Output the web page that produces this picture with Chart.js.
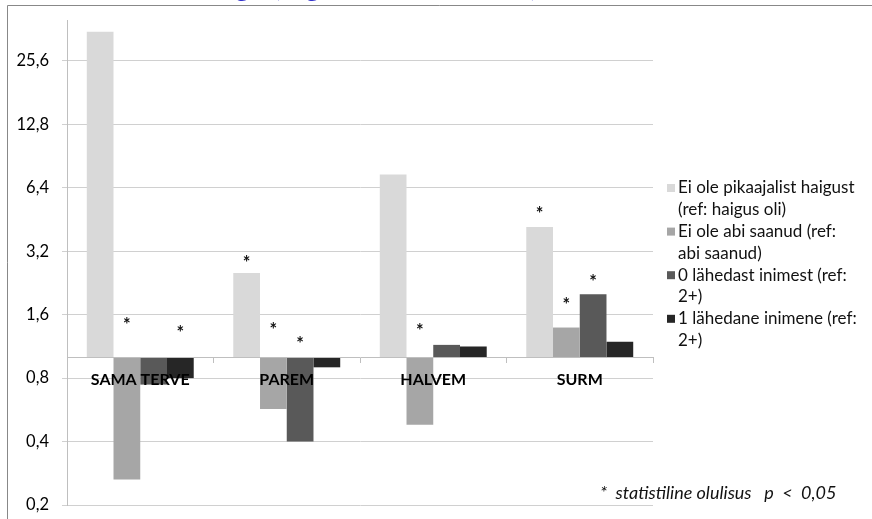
<!DOCTYPE html>
<html>
<head>
<meta charset="utf-8">
<script src="https://cdn.jsdelivr.net/npm/chart.js@4.4.1/dist/chart.umd.min.js"></script>
<style>
  html, body { margin: 0; padding: 0; background: #fff; }
  canvas { display: block; }
</style>
</head>
<body>
<canvas id="graafik" width="872" height="519"></canvas>
<script>
const categories = ["SAMA TERVE", "PAREM", "HALVEM", "SURM"];
const seriesLabels = [
    ["Ei ole pikaajalist haigust", "(ref: haigus oli)"],
    ["Ei ole abi saanud (ref:", "abi saanud)"],
    ["0 lähedast inimest (ref:", "2+)"],
    ["1 lähedane inimene (ref:", "2+)"]
];
const seriesColors = ["#d9d9d9", "#a6a6a6", "#595959", "#262626"];

// šansside suhted (ref = 1)
const noChronic = [35.2, 2.52, 7.4, 4.17];
const noHelp = [0.264, 0.571, 0.481, 1.39];
const zeroClose = [0.745, 0.40, 1.15, 2.0];
const oneClose = [0.80, 0.90, 1.13, 1.19];

// tärnide kõrgus (statistiliselt oluline), null = puudub
const sigNoChronic = [null, 2.94, null, 5.03];
const sigNoHelp = [1.50, 1.42, 1.41, 1.87];
const sigZeroClose = [null, 1.22, null, 2.41];
const sigOneClose = [1.38, null, null, null];

const yTicks = [0.2, 0.4, 0.8, 1.6, 3.2, 6.4, 12.8, 25.6];
const titleText = "Sotsiaalsete tegurite seos tervise muutumisega (logaritmiline skaala)";
const footnote = "*  statistiline olulisus   p  <  0,05";

const values = [noChronic, noHelp, zeroClose, oneClose];
const stars = [sigNoChronic, sigNoHelp, sigZeroClose, sigOneClose];

const datasets = [];
for (let i = 0; i < values.length; i++) {
    datasets.push({
        label: seriesLabels[i].join(" "),
        data: values[i],
        backgroundColor: seriesColors[i],
        borderWidth: 0,
        base: 1,
        categoryPercentage: 0.73,
        barPercentage: 1
    });
}

const decorations = {
    id: "decorations",
    beforeDraw(chart) {
        const ctx = chart.ctx;
        ctx.save();
        ctx.fillStyle = "#fff";
        ctx.fillRect(0, 0, chart.width, chart.height);
        ctx.strokeStyle = "#888";
        ctx.lineWidth = 1;
        ctx.beginPath();
        ctx.moveTo(7.5, chart.height);
        ctx.lineTo(7.5, 5.5);
        ctx.lineTo(chart.width, 5.5);
        ctx.stroke();
        ctx.font = "30px Lato";
        ctx.fillStyle = "#3333cc";
        ctx.textAlign = "right";
        ctx.textBaseline = "alphabetic";
        ctx.fillText(titleText, 538, -4);
        ctx.restore();
    },
    afterDatasetsDraw(chart) {
        const ctx = chart.ctx;
        const y = chart.scales.y;
        ctx.save();
        ctx.font = "bold 18px Lato";
        ctx.fillStyle = "#111";
        ctx.textAlign = "center";
        ctx.textBaseline = "alphabetic";
        const m = ctx.measureText("*");
        const shift = (m.actualBoundingBoxAscent - m.actualBoundingBoxDescent) / 2;
        for (let i = 0; i < stars.length; i++) {
            const meta = chart.getDatasetMeta(i);
            for (let j = 0; j < stars[i].length; j++) {
                if (stars[i][j] === null) continue;
                ctx.fillText("*", meta.data[j].x, y.getPixelForValue(stars[i][j]) + shift);
            }
        }
        ctx.restore();
    },
    afterDraw(chart) {
        const ctx = chart.ctx;
        ctx.save();
        ctx.font = "17px Lato";
        ctx.textAlign = "left";
        ctx.textBaseline = "middle";
        let lineY = 188;
        for (let i = 0; i < seriesLabels.length; i++) {
            ctx.fillStyle = seriesColors[i];
            ctx.fillRect(667, lineY - 4, 8, 8);
            ctx.fillStyle = "#111";
            for (const line of seriesLabels[i]) {
                ctx.fillText(line, 678, lineY);
                lineY += 21.8;
            }
        }
        ctx.font = "italic 18px Lato";
        ctx.fillStyle = "#111";
        ctx.fillText(footnote, 600, 493);
        ctx.restore();
    }
};

const config = {
    type: "bar",
    data: {
        labels: categories,
        datasets: datasets
    },
    options: {
        responsive: false,
        animation: false,
        devicePixelRatio: 1,
        layout: {
            padding: { left: 0, top: 20, right: 219, bottom: 14 }
        },
        scales: {
            x: {
                type: "category",
                position: { y: 1 },
                offset: true,
                afterFit: function (scale) {
                    scale.height = 0;
                },
                grid: {
                    display: true,
                    drawOnChartArea: false,
                    drawTicks: true,
                    tickLength: 5,
                    offset: true,
                    color: "#bfbfbf"
                },
                border: { display: true, color: "#bfbfbf", z: 1 },
                ticks: {
                    z: 1,
                    font: { family: "Lato", size: 16, weight: "bold" },
                    color: "#000",
                    padding: 8,
                    maxRotation: 0
                }
            },
            y: {
                type: "logarithmic",
                min: 0.2,
                max: 40,
                afterBuildTicks: function (scale) {
                    scale.ticks = yTicks.map(v => ({ value: v }));
                },
                afterFit: function (scale) {
                    scale.width = 67;
                    scale.paddingTop = 0;
                    scale.paddingBottom = 0;
                },
                grid: {
                    color: "#d0d0d0",
                    tickLength: 5
                },
                border: { display: true, color: "#bfbfbf" },
                ticks: {
                    font: { family: "Lato", size: 16.5 },
                    color: "#000",
                    padding: 13,
                    callback: function (value) {
                        return String(value).replace(".", ",");
                    }
                }
            }
        },
        plugins: {
            legend: { display: false },
            title: { display: false },
            tooltip: { enabled: false }
        }
    },
    plugins: [decorations]
};

const chart1 = new Chart(document.querySelector("#graafik"), config);
</script>
</body>
</html>
